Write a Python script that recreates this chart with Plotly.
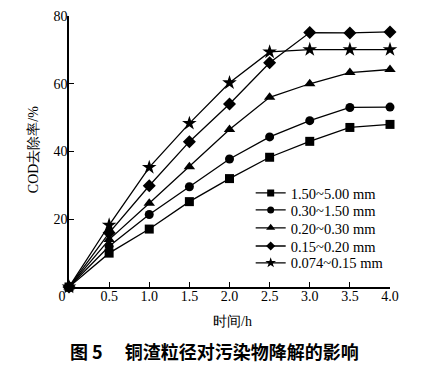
import plotly.graph_objects as go

time_h = [0, 0.5, 1.0, 1.5, 2.0, 2.5, 3.0, 3.5, 4.0]
s_150_500 = [0, 10.0, 17.1, 25.2, 32.0, 38.3, 43.0, 47.1, 48.0]
s_030_150 = [0, 12.0, 21.4, 29.6, 37.8, 44.3, 49.1, 53.0, 53.1]
s_020_030 = [0, 14.0, 24.7, 35.5, 46.5, 56.0, 60.0, 63.3, 64.2]
s_015_020 = [0, 16.0, 29.9, 42.9, 54.0, 66.2, 75.1, 75.0, 75.3]
s_0074_015 = [0, 18.3, 35.3, 48.3, 60.3, 69.4, 70.1, 70.1, 70.1]

series_names = ["1.50~5.00 mm", "0.30~1.50 mm", "0.20~0.30 mm", "0.15~0.20 mm", "0.074~0.15 mm"]
series_vals = [s_150_500, s_030_150, s_020_030, s_015_020, s_0074_015]
symbols = ["square", "circle", "triangle-up", "diamond", "star"]
sizes = [9, 9, 10, 10, 11]
legend_sizes = [7, 7, 8, 7, 8]
legend_ids = ["legend", "legend2", "legend3", "legend4", "legend5"]
legend_rows_y = [0.347, 0.284, 0.218, 0.151, 0.089]

x_tickvals = [0, 0.5, 1.0, 1.5, 2.0, 2.5, 3.0, 3.5, 4.0]
x_ticktext = ["0\u2003", "0.5", "1.0", "1.5", "2.0", "2.5", "3.0", "3.5", "4.0"]
y_tickvals = [20, 40, 60, 80]

serif = "Liberation Serif, Times New Roman, serif"

fig = go.Figure()
# draw in reverse order so the square series sits on top at the origin
for name, vals, sym, sz in reversed(list(zip(series_names, series_vals, symbols, sizes))):
    fig.add_trace(go.Scatter(
        x=time_h, y=vals, name=name, mode="lines+markers",
        line=dict(color="black", width=1.3),
        marker=dict(symbol=sym, size=sz, color="black"),
        cliponaxis=False, showlegend=False,
    ))
# legend entries with smaller symbols (no data drawn)
for name, sym, sz, lid in zip(series_names, symbols, legend_sizes, legend_ids):
    fig.add_trace(go.Scatter(
        x=[None], y=[None], name=name, mode="lines+markers",
        line=dict(color="black", width=1.3),
        marker=dict(symbol=sym, size=sz, color="black"),
        showlegend=True, legend=lid,
    ))

legend_common = dict(
    x=0.566, xanchor="left", yanchor="middle",
    bgcolor="rgba(0,0,0,0)", font=dict(family=serif, size=14.5, color="black"),
    itemwidth=30, itemsizing="trace",
)
legend_layout = {lid: dict(legend_common, y=ly) for lid, ly in zip(legend_ids, legend_rows_y)}

fig.update_layout(
    width=429, height=370,
    margin=dict(l=61, r=47, t=8, b=91, autoexpand=False),
    paper_bgcolor="white", plot_bgcolor="white",
    font=dict(family=serif, size=14, color="black"),
    showlegend=True,
    xaxis=dict(
        range=[0, 4], tickvals=x_tickvals, ticktext=x_ticktext,
        ticks="inside", ticklen=5, tickcolor="black", tickwidth=1.2,
        showline=True, linecolor="black", linewidth=1.5,
        showgrid=False, zeroline=False, mirror=False, automargin=False,
        tickfont=dict(family=serif, size=14), ticklabelstandoff=-5,
    ),
    yaxis=dict(
        range=[0, 80], tickvals=y_tickvals,
        ticks="inside", ticklen=5, tickcolor="black", tickwidth=1.2,
        showline=True, linecolor="black", linewidth=1.5,
        showgrid=False, zeroline=False, mirror=False, automargin=False,
        tickfont=dict(family=serif, size=14), ticklabelstandoff=-3,
    ),
    **legend_layout,
)

fig.add_annotation(
    text="COD去除率/%", textangle=-90,
    xref="paper", yref="paper", x=-0.112, y=0.505,
    xanchor="center", yanchor="middle", showarrow=False,
    font=dict(family=serif, size=14, color="black"),
)
fig.add_annotation(
    text="时间/h",
    xref="paper", yref="paper", x=0.508, y=-0.129,
    xanchor="center", yanchor="middle", showarrow=False,
    font=dict(family=serif, size=14, color="black"),
)
fig.add_annotation(
    text="<b>图 5　 铜渣粒径对污染物降解的影响</b>",
    xref="paper", yref="paper", x=0.452, y=-0.236,
    xanchor="center", yanchor="middle", showarrow=False,
    font=dict(family="Noto Sans CJK SC", size=18, color="black"),
)

fig.write_html("out.html")
